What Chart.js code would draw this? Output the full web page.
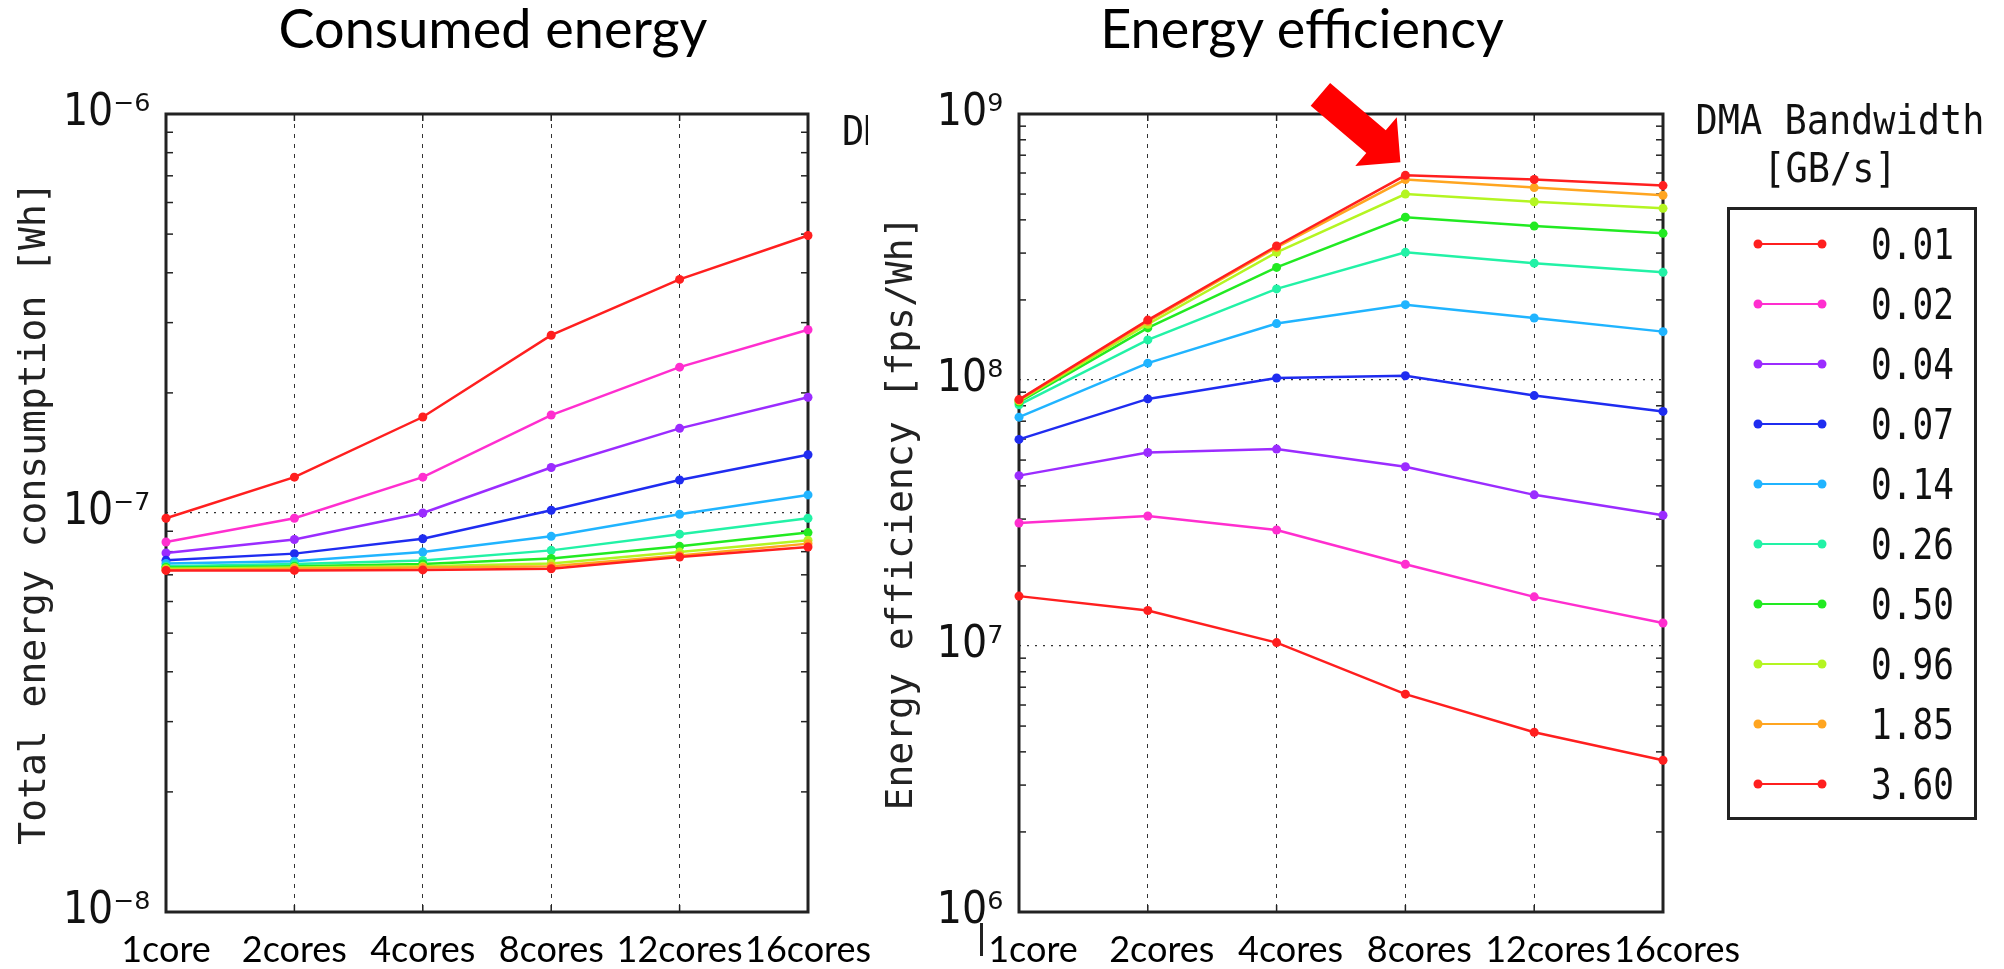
<!DOCTYPE html>
<html>
<head>
<meta charset="utf-8">
<script src="https://cdn.jsdelivr.net/npm/chart.js@4.4.1/dist/chart.umd.min.js"></script>
<style>
  body { margin: 0; width: 2004px; height: 969px; background: #fff; position: relative; overflow: hidden; }
  canvas { position: absolute; top: 0; }
  #leftChart { left: 0; }
  #rightChart { left: 870px; }
  .title { position: absolute; top: 1px; font-family: Lato, 'Open Sans', sans-serif; font-size: 54px; line-height: 54px; white-space: nowrap; transform: translateX(-50%); color: #000; }
  .mono { position: absolute; font-family: 'DejaVu Sans Mono', 'Liberation Mono', monospace; line-height: 1; white-space: nowrap; color: #111; }
  .head { font-size: 41px; transform-origin: 50% 0; transform: translateX(-50%) scaleX(0.9); }
  .item { font-size: 43px; transform-origin: 0 0; transform: scaleX(0.8); }
  #legendBox { position: absolute; left: 1727px; top: 207px; width: 250px; height: 613px; box-sizing: border-box; border: 3px solid #222; }
  .swatch { position: absolute; left: 1748px; }
  #clipped { position: absolute; left: 842px; top: 111px; width: 26px; height: 45px; overflow: hidden; }
  #stray { position: absolute; left: 980px; top: 923px; width: 3px; height: 33px; background: #222; }
</style>
</head>
<body>
<div class="title" style="left:493px">Consumed energy</div>
<div class="title" style="left:1302px">Energy efficiency</div>
<canvas id="leftChart" width="910" height="969"></canvas>
<canvas id="rightChart" width="880" height="969"></canvas>
<div id="clipped"><div class="mono" style="font-size:41px; left:0; top:0; transform-origin:0 0; transform:scaleX(0.9)">DMA Bandwidth</div></div>
<div id="stray"></div>
<div class="mono head" style="left:1840px; top:100px">DMA Bandwidth</div>
<div class="mono head" style="left:1830px; top:148px">[GB/s]</div>
<div id="legendBox"></div>
<div id="legendRows"></div>
<script>
const cores = ['1core', '2cores', '4cores', '8cores', '12cores', '16cores'];
const bandwidths = ['0.01', '0.02', '0.04', '0.07', '0.14', '0.26', '0.50', '0.96', '1.85', '3.60'];
const colors = ['#ff1f1f', '#ff2ecf', '#9b2cff', '#1f2cf0', '#20b4ff', '#22f2a6', '#22ea22', '#b4f522', '#ffa520', '#ff1f1f'];

// total energy consumption [Wh], one array per DMA bandwidth
const energy001 = [9.7e-8, 1.23e-7, 1.74e-7, 2.79e-7, 3.85e-7, 4.96e-7];
const energy002 = [8.46e-8, 9.7e-8, 1.23e-7, 1.76e-7, 2.32e-7, 2.88e-7];
const energy004 = [7.94e-8, 8.58e-8, 1.0e-7, 1.30e-7, 1.63e-7, 1.95e-7];
const energy007 = [7.61e-8, 7.91e-8, 8.62e-8, 1.016e-7, 1.21e-7, 1.40e-7];
const energy014 = [7.47e-8, 7.57e-8, 7.98e-8, 8.74e-8, 9.93e-8, 1.11e-7];
const energy026 = [7.35e-8, 7.45e-8, 7.6e-8, 8.06e-8, 8.85e-8, 9.7e-8];
const energy050 = [7.3e-8, 7.35e-8, 7.45e-8, 7.69e-8, 8.25e-8, 8.93e-8];
const energy096 = [7.25e-8, 7.3e-8, 7.35e-8, 7.47e-8, 7.98e-8, 8.55e-8];
const energy185 = [7.2e-8, 7.25e-8, 7.3e-8, 7.35e-8, 7.83e-8, 8.38e-8];
const energy360 = [7.18e-8, 7.18e-8, 7.2e-8, 7.25e-8, 7.76e-8, 8.22e-8];

// energy efficiency [fps/Wh]
const eff001 = [1.54e7, 1.36e7, 1.03e7, 6.59e6, 4.74e6, 3.72e6];
const eff002 = [2.90e7, 3.08e7, 2.73e7, 2.03e7, 1.53e7, 1.22e7];
const eff004 = [4.37e7, 5.34e7, 5.5e7, 4.72e7, 3.7e7, 3.1e7];
const eff007 = [5.98e7, 8.49e7, 1.017e8, 1.037e8, 8.74e7, 7.62e7];
const eff014 = [7.25e7, 1.157e8, 1.63e8, 1.92e8, 1.71e8, 1.52e8];
const eff026 = [8.07e7, 1.415e8, 2.2e8, 3.02e8, 2.75e8, 2.54e8];
const eff050 = [8.26e7, 1.57e8, 2.65e8, 4.09e8, 3.79e8, 3.56e8];
const eff096 = [8.35e7, 1.62e8, 3.02e8, 5.0e8, 4.68e8, 4.42e8];
const eff185 = [8.4e7, 1.66e8, 3.15e8, 5.67e8, 5.29e8, 4.95e8];
const eff360 = [8.44e7, 1.68e8, 3.19e8, 5.88e8, 5.67e8, 5.38e8];

const energySeries = [energy001, energy002, energy004, energy007, energy014, energy026, energy050, energy096, energy185, energy360];
const effSeries = [eff001, eff002, eff004, eff007, eff014, eff026, eff050, eff096, eff185, eff360];

// y axis ticks (decades) and their labels
const energyTicks = [1e-8, 1e-7, 1e-6];
const energyTickLabels = ['10⁻⁸', '10⁻⁷', '10⁻⁶'];
const effTicks = [1e6, 1e7, 1e8, 1e9];
const effTickLabels = ['10⁶', '10⁷', '10⁸', '10⁹'];
const minorSteps = [2, 3, 4, 5, 6, 7, 8, 9];

// box round the plot, small ticks inside it
const frame = {
  id: 'frame',
  beforeDatasetsDraw(chart) {
    const {ctx, chartArea: a, scales: {x, y}} = chart;
    const line = (x1, y1, x2, y2) => { ctx.beginPath(); ctx.moveTo(x1, y1); ctx.lineTo(x2, y2); ctx.stroke(); };
    ctx.save();
    ctx.strokeStyle = '#222';
    ctx.lineWidth = 1.5;
    y.ticks.forEach((t, i) => {
      if (i === y.ticks.length - 1) return;
      minorSteps.forEach(k => {
        const py = y.getPixelForValue(t.value * k);
        line(a.left, py, a.left + 7, py);
        line(a.right - 7, py, a.right, py);
      });
    });
    x.ticks.forEach((t, i) => {
      const px = x.getPixelForValue(i);
      line(px, a.bottom, px, a.bottom - 7);
      line(px, a.top, px, a.top + 7);
    });
    ctx.lineWidth = 3;
    ctx.strokeRect(a.left, a.top, a.right - a.left, a.bottom - a.top);
    ctx.restore();
  }
};

// red arrow pointing at the 8cores peak
const arrow = {
  id: 'arrow',
  afterDatasetsDraw(chart) {
    const {ctx, scales: {x, y}} = chart;
    const tx = x.getPixelForValue(3) - 5;
    const ty = y.getPixelForValue(eff360[3]) - 13;
    const ux = 0.762, uy = 0.648, nx = -uy, ny = ux;
    const mx = tx - 32 * ux, my = ty - 32 * uy;
    const bx = mx - 73 * ux, by = my - 73 * uy;
    ctx.save();
    ctx.beginPath();
    ctx.moveTo(tx, ty);
    ctx.lineTo(mx + 32 * nx, my + 32 * ny);
    ctx.lineTo(mx + 15 * nx, my + 15 * ny);
    ctx.lineTo(bx + 15 * nx, by + 15 * ny);
    ctx.lineTo(bx - 15 * nx, by - 15 * ny);
    ctx.lineTo(mx - 15 * nx, my - 15 * ny);
    ctx.lineTo(mx - 32 * nx, my - 32 * ny);
    ctx.closePath();
    ctx.fillStyle = '#ff0000';
    ctx.fill();
    ctx.restore();
  }
};

function buildDatasets(series) {
  return series.map((values, i) => ({
    label: bandwidths[i],
    data: values,
    borderColor: colors[i],
    backgroundColor: colors[i],
    pointBackgroundColor: colors[i],
    pointBorderColor: colors[i],
    borderWidth: 2.5,
    pointRadius: 4.5,
    pointHoverRadius: 4.5,
    pointBorderWidth: 0,
    tension: 0,
    clip: false,
    order: series.length - 1 - i
  }));
}

function buildOptions(yMin, yMax, tickValues, tickLabels, yTitle, yWidth, titlePad, rightPad, labelShift) {
  return {
    responsive: false,
    animation: false,
    devicePixelRatio: 1,
    layout: { autoPadding: false, padding: { left: 0, top: 114, right: rightPad, bottom: 0 } },
    plugins: { legend: { display: false }, title: { display: false }, tooltip: { enabled: false } },
    scales: {
      x: {
        grid: { color: '#333', lineWidth: 1, drawTicks: false },
        border: { display: false, dash: [4, 6] },
        ticks: {
          autoSkip: false, maxRotation: 0, minRotation: 0, padding: 17, color: '#000',
          labelOffset: labelShift,
          font: { family: "Lato, 'Open Sans', sans-serif", size: 36 }
        },
        afterFit(scale) { scale.height = 57; }
      },
      y: {
        type: 'logarithmic',
        min: yMin,
        max: yMax,
        afterBuildTicks(scale) { scale.ticks = tickValues.map(v => ({ value: v })); },
        grid: { color: '#333', lineWidth: 1.2, drawTicks: false },
        border: { display: false, dash: [2, 6] },
        ticks: {
          padding: 16, color: '#111',
          font: { family: "'Liberation Sans Narrow', 'DejaVu Sans Condensed', sans-serif", size: 44 },
          callback: (v, i) => tickLabels[i]
        },
        title: {
          display: true, text: yTitle, color: '#222',
          font: { family: "'DejaVu Sans Mono', 'Liberation Mono', monospace", size: 38, lineHeight: 1.2 },
          padding: { top: titlePad, bottom: 0 }
        },
        afterFit(scale) { scale.width = yWidth; }
      }
    }
  };
}

new Chart(document.getElementById('leftChart'), {
  type: 'line',
  data: { labels: cores, datasets: buildDatasets(energySeries) },
  options: buildOptions(1e-8, 1e-6, energyTicks, energyTickLabels, 'Total energy consumption [Wh]', 166, 12, 102, 0),
  plugins: [frame]
});

new Chart(document.getElementById('rightChart'), {
  type: 'line',
  data: { labels: cores, datasets: buildDatasets(effSeries) },
  options: buildOptions(1e6, 1e9, effTicks, effTickLabels, 'Energy efficiency [fps/Wh]', 149, 9, 87, 14),
  plugins: [frame, arrow]
});

// legend: line with a dot at each end, then the bandwidth
const rows = document.getElementById('legendRows');
bandwidths.forEach((bw, i) => {
  const cy = 244 + 60 * i;
  const sw = document.createElement('div');
  sw.className = 'swatch';
  sw.style.top = (cy - 10) + 'px';
  sw.innerHTML = '<svg width="84" height="20"><line x1="10" y1="10" x2="74" y2="10" stroke="' + colors[i] +
    '" stroke-width="2"/><circle cx="10" cy="10" r="4.5" fill="' + colors[i] + '"/><circle cx="74" cy="10" r="4.5" fill="' + colors[i] + '"/></svg>';
  rows.appendChild(sw);
  const label = document.createElement('div');
  label.className = 'mono item';
  label.style.left = '1871px';
  label.style.top = (cy - 20.6) + 'px';
  label.textContent = bw;
  rows.appendChild(label);
});
</script>
</body>
</html>
